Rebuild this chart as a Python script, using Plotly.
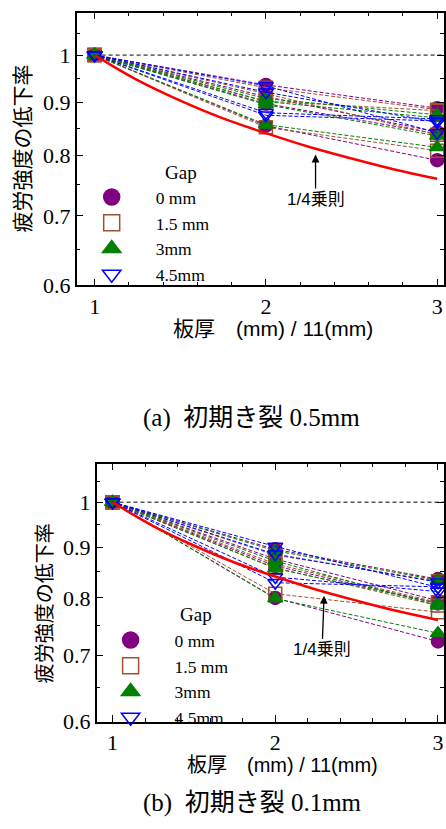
import math
import plotly.graph_objects as go

# ---------------- data ----------------
x_thick = [1, 2, 3]
x_ticks = [1, 2, 3]
y_ticks = [0.6, 0.7, 0.8, 0.9, 1.0]
y_ticktext = ["0.6", "0.7", "0.8", "0.9", "1"]
y_minor = [0.65, 0.75, 0.85, 0.95, 1.05]

gap_names = ["0 mm", "1.5 mm", "3mm", "4.5mm"]

# panel (a) initial crack 0.5mm : each gap has several series (values at x=1,2,3)
a_gap0 = [[1.0, 0.936, 0.889], [1.0, 0.912, 0.843], [1.0, 0.898, 0.840], [1.0, 0.855, 0.792]]
a_gap15 = [[1.0, 0.930, 0.886], [1.0, 0.918, 0.838], [1.0, 0.903, 0.884], [1.0, 0.852, 0.809]]
a_gap3 = [[1.0, 0.908, 0.876], [1.0, 0.896, 0.836], [1.0, 0.902, 0.870], [1.0, 0.857, 0.815]]
a_gap45 = [[1.0, 0.934, 0.842], [1.0, 0.880, 0.868], [1.0, 0.875, 0.864], [1.0, 0.921, 0.862]]

# panel (b) initial crack 0.1mm
b_gap0 = [[1.0, 0.896, 0.836], [1.0, 0.876, 0.795], [1.0, 0.862, 0.790], [1.0, 0.800, 0.723]]
b_gap15 = [[1.0, 0.884, 0.832], [1.0, 0.866, 0.792], [1.0, 0.858, 0.786], [1.0, 0.808, 0.774]]
b_gap3 = [[1.0, 0.893, 0.834], [1.0, 0.872, 0.786], [1.0, 0.857, 0.790], [1.0, 0.799, 0.737]]
b_gap45 = [[1.0, 0.902, 0.820], [1.0, 0.886, 0.830], [1.0, 0.840, 0.812], [1.0, 0.829, 0.821]]

# 1/4 power rule curve
x_rule = [1, 1.25, 1.5, 1.75, 2, 2.25, 2.5, 2.75, 3]
y_rule = [1.0, 0.946, 0.904, 0.869, 0.841, 0.816, 0.795, 0.776, 0.760]

# reference line
x_ref = [1, 3.1]
y_ref = [1.0, 1.0]

# ---------------- styles ----------------
styles = [
    dict(color="#800080", symbol="circle", fill="#800080", size=13),
    dict(color="#a0522d", symbol="square-open", fill="#a0522d", size=13),
    dict(color="#008000", symbol="triangle-up", fill="#008000", size=13),
    dict(color="#0000ff", symbol="triangle-down-open", fill="#0000ff", size=13),
]
legend_line_colors = ["#800080", "#8b1a1a", "#008000", "#0000ff"]

fig = go.Figure()

panels = [
    ("x", "y", "legend", [a_gap0, a_gap15, a_gap3, a_gap45]),
    ("x2", "y2", "legend2", [b_gap0, b_gap15, b_gap3, b_gap45]),
]

for xa, ya, lg, groups in panels:
    fig.add_trace(go.Scatter(x=x_ref, y=y_ref, mode="lines", xaxis=xa, yaxis=ya,
                             line=dict(color="black", width=1, dash="4px,3px"),
                             showlegend=False, hoverinfo="skip"))
    for gi, group in enumerate(groups):
        st = styles[gi]
        for series in group:
            fig.add_trace(go.Scatter(
                x=x_thick, y=series, mode="lines+markers", xaxis=xa, yaxis=ya,
                line=dict(color=st["color"], width=1, dash="4px,2px"),
                marker=dict(symbol=st["symbol"], size=st["size"], color=st["fill"],
                            line=dict(color=st["color"], width=1.5)),
                showlegend=False))
    fig.add_trace(go.Scatter(x=x_rule, y=y_rule, mode="lines", xaxis=xa, yaxis=ya,
                             line=dict(color="#ff0000", width=2.5, shape="spline"),
                             showlegend=False))
    for gi, name in enumerate(gap_names):
        st = styles[gi]
        fig.add_trace(go.Scatter(
            x=[None], y=[None], mode="markers", name=name, legend=lg,
            xaxis=xa, yaxis=ya,
            marker=dict(symbol=st["symbol"], size=16, color=st["fill"],
                        line=dict(color=legend_line_colors[gi], width=1.5))))

W, H = 446, 829

def px(v):
    return v / W

def py(v):
    return 1 - v / H

serif = "Liberation Serif, Times New Roman, serif"
sans = "Liberation Sans, Noto Sans CJK JP, sans-serif"
mixed = "Liberation Serif, Noto Sans CJK JP, serif"

def xaxis_cfg(domain_left, rng, anchor):
    return dict(domain=[domain_left, 1.0], range=rng, anchor=anchor,
                tickmode="array", tickvals=x_ticks, ticks="inside", ticklen=7,
                tickwidth=1.2, tickcolor="black",
                minor=dict(dtick=0.2, tick0=0, ticks="inside", ticklen=4,
                           tickcolor="black", tickwidth=1),
                showline=True, linecolor="black", linewidth=1.5, mirror="ticks",
                showgrid=False, zeroline=False,
                tickfont=dict(family=serif, size=22, color="black"))

def yaxis_cfg(dom, rng, anchor):
    return dict(domain=dom, type="log", range=rng, anchor=anchor,
                tickmode="array", tickvals=y_ticks, ticktext=y_ticktext,
                ticks="inside", ticklen=7, tickwidth=1.2, tickcolor="black",
                minor=dict(tickvals=y_minor, ticks="inside", ticklen=4,
                           tickcolor="black", tickwidth=1),
                showline=True, linecolor="black", linewidth=1.5, mirror="ticks",
                showgrid=False, zeroline=False,
                tickfont=dict(family=serif, size=22, color="black"))

ylo = math.log10(0.6)

fig.update_layout(
    width=W, height=H,
    margin=dict(l=0, r=0, t=0, b=0),
    paper_bgcolor="white", plot_bgcolor="white",
    xaxis=xaxis_cfg(px(77), [0.895, 3.04], "y"),
    yaxis=yaxis_cfg([py(290), py(12.7)], [ylo, math.log10(1.099)], "x"),
    xaxis2=xaxis_cfg(px(97), [0.902, 3.037], "y2"),
    yaxis2=yaxis_cfg([py(733), py(471)], [ylo, math.log10(1.094)], "x2"),
    legend=dict(x=px(68), y=py(182), xanchor="left", yanchor="top",
                bgcolor="rgba(0,0,0,0)", tracegroupgap=0, itemwidth=78,
                font=dict(family=serif, size=17.5, color="black")),
    legend2=dict(x=px(87), y=py(632), xanchor="left", yanchor="top",
                 bgcolor="rgba(0,0,0,0)", tracegroupgap=0, itemwidth=78,
                 font=dict(family=serif, size=17.5, color="black")),
    showlegend=True,
)

def pa(xp, yp, text, size, family, angle=0):
    return dict(x=px(xp), y=py(yp), xref="paper", yref="paper", text=text,
                xanchor="center", yanchor="middle", textangle=angle,
                showarrow=False, font=dict(family=family, size=size, color="black"))

annotations = [
    dict(x=2.29, y=math.log10(0.802), xref="x", yref="y", text="1/4乗則",
         showarrow=True, arrowhead=2, arrowsize=1.2, arrowwidth=1.3, arrowcolor="black",
         ax=0, ay=45, font=dict(family=sans, size=17, color="black")),
    dict(x=2.30, y=math.log10(0.804), xref="x2", yref="y2", text="1/4乗則",
         showarrow=True, arrowhead=2, arrowsize=1.2, arrowwidth=1.3, arrowcolor="black",
         ax=-2, ay=54, font=dict(family=sans, size=17, color="black")),
    pa(182, 175, "Gap", 19, serif),
    pa(197, 624, "Gap", 19, serif),
    pa(23, 151, "疲労強度の低下率", 21, sans, -90),
    pa(46, 613, "疲労強度の低下率", 20, sans, -90),
    pa(274, 334, "板厚　(mm) / 11(mm)", 21, sans),
    pa(284, 777, "板厚　(mm) / 11(mm)", 20, sans),
    pa(253, 425, "(a)  初期き裂 0.5mm", 25, mixed),
    pa(254, 816, "(b)  初期き裂 0.1mm", 25, mixed),
]
fig.update_layout(annotations=annotations)

fig.write_html("out.html", config={"displayModeBar": False},
               post_script="document.body.style.margin='0px';document.body.style.overflow='hidden';")
